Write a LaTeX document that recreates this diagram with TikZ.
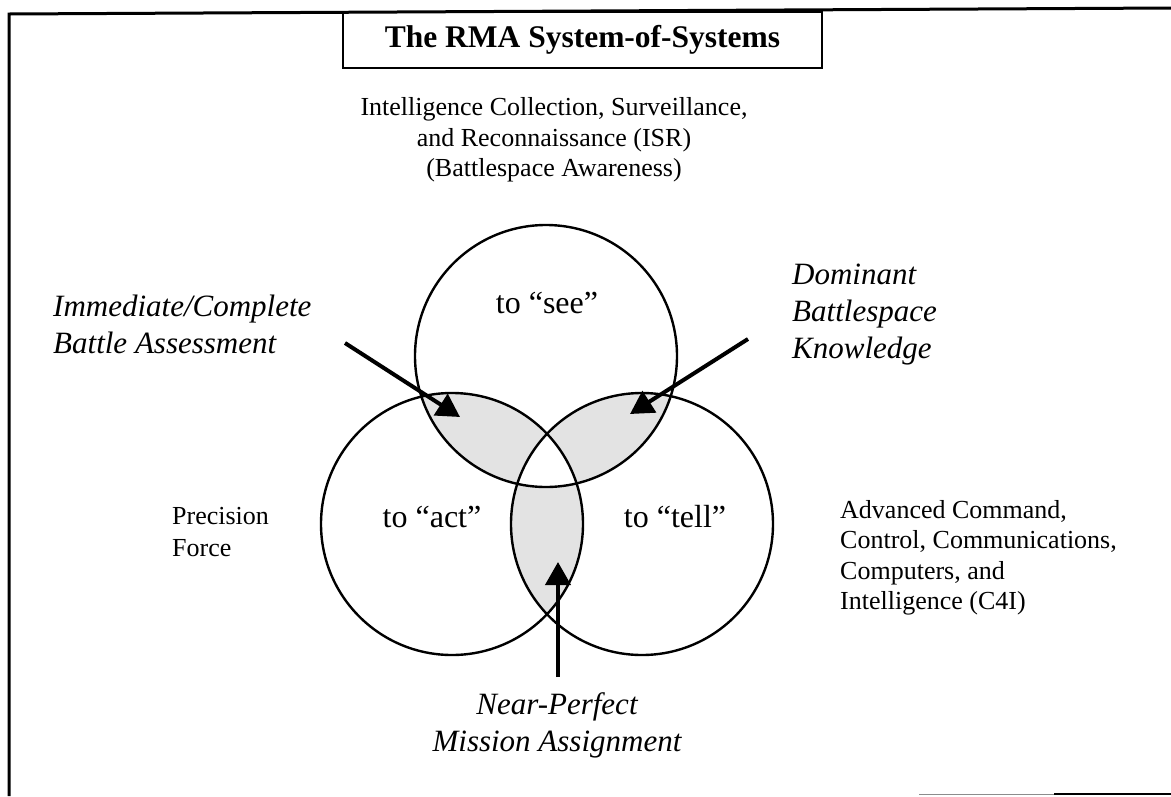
\documentclass[tikz,border=0pt]{standalone}
\usepackage{fontspec}
\setmainfont{Liberation Serif}
\usetikzlibrary{arrows.meta}
\begin{document}
\begin{tikzpicture}[x=1pt,y=-1pt,
  ring/.style={line width=2.4pt},
  lensfill/.style={fill=black!11},
  pointer/.style={line width=4pt,-{Triangle[length=23pt,width=25pt]}},
  bodytext/.style={font=\fontsize{26}{30.5}\selectfont, inner sep=0pt},
  circlabel/.style={font=\fontsize{32}{38}\selectfont, inner sep=0pt},
  emphlabel/.style={font=\fontsize{31}{37}\selectfont\itshape, inner sep=0pt},
  pageframe/.style={line width=3pt}
]
\useasboundingbox (0,0) rectangle (1171,796);

% page frame
\draw[pageframe] (9,796) -- (9,14) -- (1171,8);
\draw[line width=1pt, black!45] (919,794) -- (1054,794);
\draw[line width=2.5pt] (1054,794) -- (1171,794);

% title
\node[draw, line width=2.5pt, minimum width=479pt, minimum height=56pt, inner sep=0pt,
      font=\fontsize{31.5}{36}\selectfont\bfseries] (title) at (582.5,40) {The RMA System-of-Systems};

% circle centres
\coordinate (cS) at (546,356);
\coordinate (cA) at (452,524);
\coordinate (cT) at (642,524);

% shaded pairwise overlaps
\begin{scope}
  \clip (cS) circle (131pt);
  \fill[lensfill] (cA) circle (131pt);
  \fill[lensfill] (cT) circle (131pt);
\end{scope}
\begin{scope}
  \clip (cA) circle (131pt);
  \fill[lensfill] (cT) circle (131pt);
\end{scope}
\begin{scope}
  \clip (cS) circle (131pt);
  \clip (cA) circle (131pt);
  \fill[white] (cT) circle (131pt);
\end{scope}

% circles
\draw[ring] (cS) circle (131pt);
\draw[ring] (cA) circle (131pt);
\draw[ring] (cT) circle (131pt);

% circle labels
\node[circlabel] (see) at (547,303) {to “see”};
\node[circlabel] (act) at (432,517) {to “act”};
\node[circlabel] (tell) at (675,517) {to “tell”};

% outer labels
\node[bodytext, align=center] (isr) at (554,140)
  {Intelligence Collection, Surveillance,\\and Reconnaissance (ISR)\\(Battlespace Awareness)};
\node[bodytext, align=left, anchor=west, font=\fontsize{26}{32}\selectfont] (pf) at (172,532)
  {Precision\\Force};
\node[bodytext, align=left, anchor=west] (c4i) at (840,558)
  {Advanced Command,\\Control, Communications,\\Computers, and\\Intelligence (C4I)};

\node[emphlabel, align=left, anchor=west] (iba) at (53,324)
  {Immediate/Complete\\Battle Assessment};
\node[emphlabel, align=left, anchor=west] (dbk) at (792,315)
  {Dominant\\Battlespace\\Knowledge};
\node[emphlabel, align=center] (npma) at (557,725)
  {Near-Perfect\\Mission Assignment};

% arrows
\coordinate (ibaStart) at (345,343);
\coordinate (ibaTip) at (460,417);
\coordinate (dbkStart) at (748,339);
\coordinate (dbkTip) at (630,414);
\coordinate (npStart) at (558,677);
\coordinate (npTip) at (558,562);
\draw[pointer] (ibaStart) -- (ibaTip);
\draw[pointer] (dbkStart) -- (dbkTip);
\draw[pointer] (npStart) -- (npTip);
\end{tikzpicture}
\end{document}
